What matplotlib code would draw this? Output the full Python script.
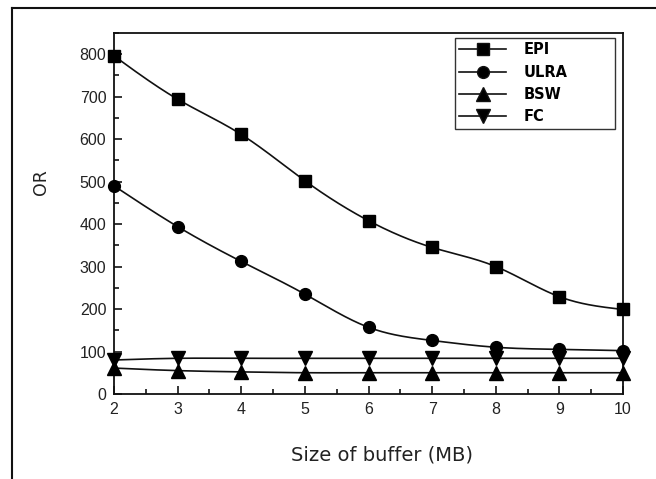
import numpy as np
import matplotlib
matplotlib.use("Agg")
import matplotlib.pyplot as plt
from matplotlib.lines import Line2D

# Data
buffer_mb = [2, 3, 4, 5, 6, 7, 8, 9, 10]
epi = [796, 694, 611, 502, 408, 345, 300, 229, 199]
ulra = [490, 394, 312, 235, 157, 126, 110, 105, 102]
bsw = [61, 55, 52, 50, 50, 50, 50, 50, 50]
fc = [80, 84, 84, 84, 84, 84, 84, 84, 84]

series_names = ["EPI", "ULRA", "BSW", "FC"]
series_values = [epi, ulra, bsw, fc]
series_markers = ["s", "o", "^", "v"]
series_sizes = [8, 8.5, 10, 10]


def spline(x, y, xs):
    # natural cubic spline through the points, only used to draw a smooth line
    x = np.asarray(x, float)
    y = np.asarray(y, float)
    n = len(x)
    h = np.diff(x)
    A = np.zeros((n, n))
    b = np.zeros(n)
    A[0, 0] = A[-1, -1] = 1
    for i in range(1, n - 1):
        A[i, i - 1] = h[i - 1]
        A[i, i] = 2 * (h[i - 1] + h[i])
        A[i, i + 1] = h[i]
        b[i] = 6 * ((y[i + 1] - y[i]) / h[i] - (y[i] - y[i - 1]) / h[i - 1])
    M = np.linalg.solve(A, b)
    idx = np.clip(np.searchsorted(x, xs) - 1, 0, n - 2)
    x0, x1, hh = x[idx], x[idx + 1], h[idx]
    return (M[idx] * (x1 - xs) ** 3 / (6 * hh) + M[idx + 1] * (xs - x0) ** 3 / (6 * hh)
            + (y[idx] / hh - M[idx] * hh / 6) * (x1 - xs)
            + (y[idx + 1] / hh - M[idx + 1] * hh / 6) * (xs - x0))


fig = plt.figure(figsize=(6.56, 4.79), dpi=100)
ax = fig.add_axes([0.1738, 0.1775, 0.776, 0.7537])

xs = np.linspace(buffer_mb[0], buffer_mb[-1], 400)
handles = []
for name, vals, mk, ms in zip(series_names, series_values, series_markers, series_sizes):
    ax.plot(xs, spline(buffer_mb, vals, xs), color="#111111", lw=1.2, zorder=2, clip_on=False)
    ax.plot(buffer_mb, vals, linestyle="none", marker=mk, ms=ms, color="black", zorder=3, clip_on=False)
    handles.append(Line2D([], [], color="#111111", lw=1.2, marker=mk, ms=ms, markerfacecolor="black"))

ax.set_xlim(2, 10)
ax.set_ylim(0, 850)
ax.set_xticks(range(2, 11))
ax.set_xticks(np.arange(2.5, 10, 1), minor=True)
ax.set_yticks(range(0, 801, 100))
ax.set_yticks(range(50, 851, 100), minor=True)
ax.tick_params(which="both", direction="in", top=False, right=False, width=1.1,
               labelsize=11.5, labelcolor="#222222", pad=5.5)
ax.tick_params(which="major", length=6)
ax.tick_params(which="minor", length=3.5)
for lab in ax.get_xticklabels() + ax.get_yticklabels():
    lab.set_family("Liberation Sans")
for sp in ax.spines.values():
    sp.set_linewidth(1.3)
    sp.set_color("#111111")

ax.set_xlabel("Size of buffer (MB)", fontsize=14, color="#222222")
ax.set_ylabel("OR", fontsize=12.5, color="#222222")
ax.xaxis.set_label_coords(0.526, -0.144)
ax.yaxis.set_label_coords(-0.126, 0.587)

leg = ax.legend(handles, series_names, loc="upper left",
                bbox_to_anchor=(0.670, 0.986 - 0.26, 0.314, 0.26), mode="expand",
                borderaxespad=0, borderpad=0.3, handlelength=3.2, handletextpad=1.2,
                labelspacing=0.5, fancybox=False, framealpha=1,
                prop={"weight": "bold", "size": 10.5})
leg.get_frame().set_edgecolor("#333333")
leg.get_frame().set_linewidth(1.0)

# outer frame lines (top and left only)
fig.add_artist(Line2D([0.018, 1.0], [0.983, 0.983], color="#111111", lw=1.5, transform=fig.transFigure))
fig.add_artist(Line2D([0.018, 0.018], [0.0, 0.983], color="#111111", lw=1.5, transform=fig.transFigure))

fig.savefig("out.png", dpi=100)
